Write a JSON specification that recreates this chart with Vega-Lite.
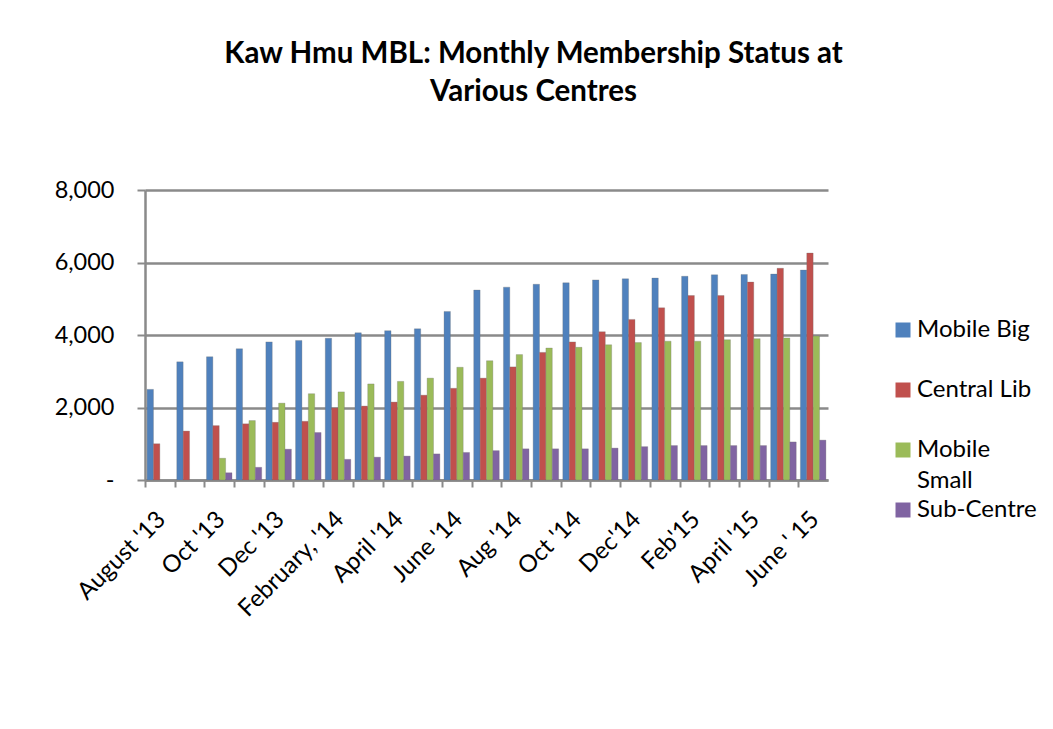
{
  "$schema": "https://vega.github.io/schema/vega-lite/v6.json",
  "autosize": {"type": "none"},
  "padding": {"left": 145, "top": 190, "right": 225, "bottom": 249},
  "width": 683,
  "height": 290,
  "background": "white",
  "title": {
    "text": ["Kaw Hmu MBL: Monthly Membership Status at", "Various Centres"],
    "font": "Lato",
    "fontSize": 29.5,
    "fontWeight": "bold",
    "lineHeight": 38,
    "color": "#000000",
    "anchor": "middle",
    "frame": "group",
    "dx": 47,
    "offset": 71
  },
  "config": {
    "view": {"stroke": null},
    "font": "Lato",
    "style": {"guide-label": {"lineHeight": 31}}
  },
  "data": {
    "values": [
      {"month": "August '13", "series": "Mobile Big", "value": 2500},
      {"month": "August '13", "series": "Central Lib", "value": 1000},
      {"month": "Sep '13", "series": "Mobile Big", "value": 3260},
      {"month": "Sep '13", "series": "Central Lib", "value": 1350},
      {"month": "Oct '13", "series": "Mobile Big", "value": 3400},
      {"month": "Oct '13", "series": "Central Lib", "value": 1500},
      {"month": "Oct '13", "series": "Mobile Small", "value": 600},
      {"month": "Oct '13", "series": "Sub-Centre", "value": 200},
      {"month": "Nov '13", "series": "Mobile Big", "value": 3620},
      {"month": "Nov '13", "series": "Central Lib", "value": 1550},
      {"month": "Nov '13", "series": "Mobile Small", "value": 1640},
      {"month": "Nov '13", "series": "Sub-Centre", "value": 350},
      {"month": "Dec '13", "series": "Mobile Big", "value": 3810},
      {"month": "Dec '13", "series": "Central Lib", "value": 1590},
      {"month": "Dec '13", "series": "Mobile Small", "value": 2120},
      {"month": "Dec '13", "series": "Sub-Centre", "value": 850},
      {"month": "Jan '14", "series": "Mobile Big", "value": 3850},
      {"month": "Jan '14", "series": "Central Lib", "value": 1620},
      {"month": "Jan '14", "series": "Mobile Small", "value": 2380},
      {"month": "Jan '14", "series": "Sub-Centre", "value": 1310},
      {"month": "February, '14", "series": "Mobile Big", "value": 3910},
      {"month": "February, '14", "series": "Central Lib", "value": 1990},
      {"month": "February, '14", "series": "Mobile Small", "value": 2430},
      {"month": "February, '14", "series": "Sub-Centre", "value": 570},
      {"month": "Mar '14", "series": "Mobile Big", "value": 4060},
      {"month": "Mar '14", "series": "Central Lib", "value": 2040},
      {"month": "Mar '14", "series": "Mobile Small", "value": 2650},
      {"month": "Mar '14", "series": "Sub-Centre", "value": 630},
      {"month": "April '14", "series": "Mobile Big", "value": 4120},
      {"month": "April '14", "series": "Central Lib", "value": 2150},
      {"month": "April '14", "series": "Mobile Small", "value": 2720},
      {"month": "April '14", "series": "Sub-Centre", "value": 660},
      {"month": "May '14", "series": "Mobile Big", "value": 4170},
      {"month": "May '14", "series": "Central Lib", "value": 2340},
      {"month": "May '14", "series": "Mobile Small", "value": 2810},
      {"month": "May '14", "series": "Sub-Centre", "value": 720},
      {"month": "June '14", "series": "Mobile Big", "value": 4650},
      {"month": "June '14", "series": "Central Lib", "value": 2530},
      {"month": "June '14", "series": "Mobile Small", "value": 3110},
      {"month": "June '14", "series": "Sub-Centre", "value": 760},
      {"month": "July '14", "series": "Mobile Big", "value": 5240},
      {"month": "July '14", "series": "Central Lib", "value": 2810},
      {"month": "July '14", "series": "Mobile Small", "value": 3290},
      {"month": "July '14", "series": "Sub-Centre", "value": 810},
      {"month": "Aug '14", "series": "Mobile Big", "value": 5320},
      {"month": "Aug '14", "series": "Central Lib", "value": 3120},
      {"month": "Aug '14", "series": "Mobile Small", "value": 3460},
      {"month": "Aug '14", "series": "Sub-Centre", "value": 860},
      {"month": "Sep '14", "series": "Mobile Big", "value": 5400},
      {"month": "Sep '14", "series": "Central Lib", "value": 3520},
      {"month": "Sep '14", "series": "Mobile Small", "value": 3640},
      {"month": "Sep '14", "series": "Sub-Centre", "value": 860},
      {"month": "Oct '14", "series": "Mobile Big", "value": 5440},
      {"month": "Oct '14", "series": "Central Lib", "value": 3810},
      {"month": "Oct '14", "series": "Mobile Small", "value": 3660},
      {"month": "Oct '14", "series": "Sub-Centre", "value": 860},
      {"month": "Nov '14", "series": "Mobile Big", "value": 5520},
      {"month": "Nov '14", "series": "Central Lib", "value": 4090},
      {"month": "Nov '14", "series": "Mobile Small", "value": 3730},
      {"month": "Nov '14", "series": "Sub-Centre", "value": 880},
      {"month": "Dec'14", "series": "Mobile Big", "value": 5550},
      {"month": "Dec'14", "series": "Central Lib", "value": 4430},
      {"month": "Dec'14", "series": "Mobile Small", "value": 3790},
      {"month": "Dec'14", "series": "Sub-Centre", "value": 920},
      {"month": "Jan '15", "series": "Mobile Big", "value": 5570},
      {"month": "Jan '15", "series": "Central Lib", "value": 4750},
      {"month": "Jan '15", "series": "Mobile Small", "value": 3830},
      {"month": "Jan '15", "series": "Sub-Centre", "value": 950},
      {"month": "Feb'15", "series": "Mobile Big", "value": 5620},
      {"month": "Feb'15", "series": "Central Lib", "value": 5090},
      {"month": "Feb'15", "series": "Mobile Small", "value": 3830},
      {"month": "Feb'15", "series": "Sub-Centre", "value": 950},
      {"month": "Mar '15", "series": "Mobile Big", "value": 5660},
      {"month": "Mar '15", "series": "Central Lib", "value": 5090},
      {"month": "Mar '15", "series": "Mobile Small", "value": 3870},
      {"month": "Mar '15", "series": "Sub-Centre", "value": 950},
      {"month": "April '15", "series": "Mobile Big", "value": 5670},
      {"month": "April '15", "series": "Central Lib", "value": 5460},
      {"month": "April '15", "series": "Mobile Small", "value": 3900},
      {"month": "April '15", "series": "Sub-Centre", "value": 950},
      {"month": "May '15", "series": "Mobile Big", "value": 5680},
      {"month": "May '15", "series": "Central Lib", "value": 5840},
      {"month": "May '15", "series": "Mobile Small", "value": 3920},
      {"month": "May '15", "series": "Sub-Centre", "value": 1050},
      {"month": "June ' 15", "series": "Mobile Big", "value": 5790},
      {"month": "June ' 15", "series": "Central Lib", "value": 6260},
      {"month": "June ' 15", "series": "Mobile Small", "value": 3970},
      {"month": "June ' 15", "series": "Sub-Centre", "value": 1100}
    ]
  },
  "mark": {"type": "bar", "stroke": "#6f6f6f", "strokeWidth": 0.3},
  "encoding": {
    "x": {
      "field": "month",
      "type": "nominal",
      "sort": null,
      "title": null,
      "scale": {"paddingInner": 0.14, "paddingOuter": 0.07},
      "axis": {
        "labelAngle": -45,
        "labelFont": "Lato",
        "labelFontSize": 24,
        "labelColor": "#000000",
        "labelPadding": 20,
        "tickOffset": -14.85,
        "labelOffset": 8,
        "tickSize": 7,
        "tickWidth": 2,
        "tickColor": "#8a8a8a",
        "domainColor": "#8a8a8a",
        "domainWidth": 2.5,
        "labelOverlap": false,
        "labelLimit": 0,
        "labelExpr": "indexof([\"Sep '13\", \"Nov '13\", \"Jan '14\", \"Mar '14\", \"May '14\", \"July '14\", \"Sep '14\", \"Nov '14\", \"Jan '15\", \"Mar '15\", \"May '15\"], datum.value) >= 0 ? '' : datum.label"
      }
    },
    "xOffset": {
      "field": "series",
      "type": "nominal",
      "sort": ["Mobile Big", "Central Lib", "Mobile Small", "Sub-Centre"]
    },
    "y": {
      "field": "value",
      "type": "quantitative",
      "title": null,
      "scale": {"domain": [0, 8000]},
      "axis": {
        "values": [0, 2000, 4000, 6000, 8000],
        "labelExpr": "datum.value == 0 ? '-\u00a0\u00a0\u00a0' : format(datum.value, ',')",
        "labelFont": "Lato",
        "labelFontSize": 23.5,
        "labelColor": "#000000",
        "labelPadding": 23,
        "tickSize": 8,
        "tickWidth": 2,
        "tickColor": "#8a8a8a",
        "domainColor": "#8a8a8a",
        "domainWidth": 2.5,
        "grid": true,
        "gridColor": "#8a8a8a",
        "gridWidth": 2.5
      }
    },
    "color": {
      "field": "series",
      "type": "nominal",
      "sort": ["Mobile Big", "Central Lib", "Mobile Small", "Sub-Centre"],
      "scale": {
        "domain": ["Mobile Big", "Central Lib", "Mobile Small", "Sub-Centre"],
        "range": ["#4F81BD", "#C0504D", "#9BBB59", "#8064A2"]
      },
      "legend": {
        "title": null,
        "orient": "none",
        "legendX": 746,
        "legendY": 128,
        "padding": 0,
        "symbolType": "square",
        "symbolSize": 225,
        "symbolStrokeWidth": 0,
        "labelFont": "Lato",
        "labelFontSize": 24,
        "labelColor": "#000000",
        "labelOffset": 2,
        "labelBaseline": "middle",
        "labelLimit": 0,
        "rowPadding": 5,
        "labelExpr": "datum.label == 'Mobile Small' ? ['Mobile', 'Small'] : [datum.label, '']"
      }
    }
  }
}
